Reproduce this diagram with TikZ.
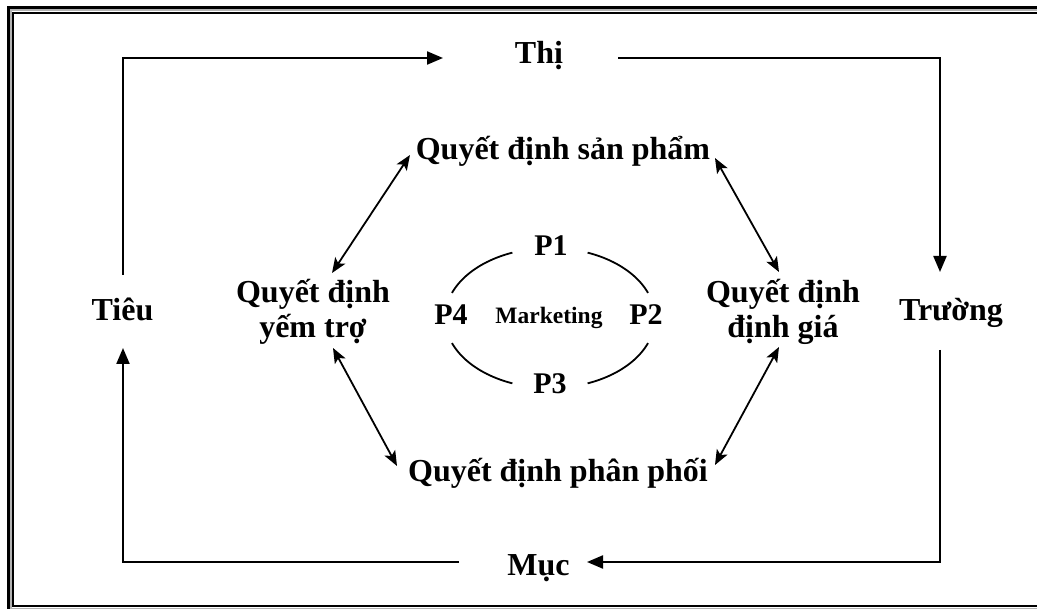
\documentclass[tikz,border=0pt]{standalone}
\usepackage{fontspec}
\setmainfont{Liberation Serif}
\usetikzlibrary{arrows.meta,calc}
\begin{document}
\begin{tikzpicture}[x=1pt,y=-1pt,
  lbl/.style={font=\fontsize{32}{35}\selectfont\bfseries, inner sep=0pt},
  plbl/.style={font=\fontsize{30}{34}\selectfont\bfseries, inner sep=0pt},
  mlbl/.style={font=\fontsize{23.5}{27}\selectfont\bfseries, inner sep=0pt},
  flow/.style={line width=2.2pt, -{Triangle[length=16pt,width=13pt]}},
  dbl/.style={line width=1.8pt, {Stealth[length=15pt,width=12pt,inset=3.5pt]}-{Stealth[length=15pt,width=12pt,inset=3.5pt]}},
  ring/.style={line width=1.8pt}]
\useasboundingbox (0,0) rectangle (1037,609);
\clip (0,0) rectangle (1037,609);
% frame
\draw[line width=3pt] (8.5,7.5) rectangle (1050,615);
\draw[line width=1.2pt, gray!60] (11,10) rectangle (1047,608.3);
\draw[line width=2pt] (13.3,12.7) rectangle (1045,606);
% outer labels
\node[lbl, anchor=base] (thi) at (539,64) {Thị};
\node[lbl, anchor=base] (tieu) at (122.5,321) {Tiêu};
\node[lbl, anchor=base] (truong) at (951,321) {Trường};
\node[lbl, anchor=base] (muc) at (538.5,576) {Mục};
% outer loop
\draw[flow] ($(tieu.base)+(0.5,-46)$) |- ($(thi.base)+(-96,-6)$);
\draw[flow] ($(thi.base)+(79,-6)$) -| ($(truong.base)+(-11,-49)$);
\draw[flow] ($(truong.base)+(-11,29)$) |- ($(muc.base)+(48.5,-14)$);
\draw[flow] ($(muc.base)+(-79.5,-14)$) -| ($(tieu.base)+(0.5,27)$);
% decisions
\node[lbl, anchor=base] (sp) at (563,160) {Quyết định sản phẩm};
\node[lbl, anchor=base] (pp) at (558,482) {Quyết định phân phối};
\node[lbl, align=center] (yt) at (313,312) {Quyết định\\yếm trợ};
\node[lbl, align=center] (dg) at (783,312) {Quyết định\\định giá};
% double arrows
\draw[dbl] ($(sp.base)+(-153,-5)$) -- ($(yt.center)+(19,-39)$);
\draw[dbl] ($(sp.base)+(152,-2)$) -- ($(dg.center)+(-4,-40)$);
\draw[dbl] ($(dg.center)+(-4,35)$) -- ($(pp.base)+(157,-17)$);
\draw[dbl] ($(yt.center)+(20,36)$) -- ($(pp.base)+(-161,-16)$);
% 4P ring
\coordinate (rc) at (550,318);
\node[plbl, anchor=base] (p1) at (551,256) {P1};
\node[plbl, anchor=base] (p2) at (646,325) {P2};
\node[plbl, anchor=base] (p3) at (550,394) {P3};
\node[plbl, anchor=base] (p4) at (451,325) {P4};
\node[mlbl, anchor=base] (mk) at (549,324) {Marketing};
\draw[ring] plot[domain=21:69,samples=40] ({550+105*cos(\x)},{318-70*sin(\x)});
\draw[ring] plot[domain=111:159,samples=40] ({550+105*cos(\x)},{318-70*sin(\x)});
\draw[ring] plot[domain=201:249,samples=40] ({550+105*cos(\x)},{318-70*sin(\x)});
\draw[ring] plot[domain=291:339,samples=40] ({550+105*cos(\x)},{318-70*sin(\x)});
\end{tikzpicture}
\end{document}
